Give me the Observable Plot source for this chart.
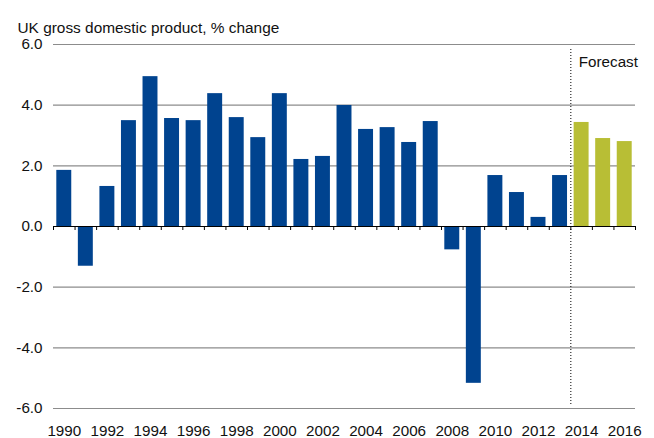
<!DOCTYPE html>
<html>
<head>
<meta charset="utf-8">
<script src="https://cdn.jsdelivr.net/npm/d3@7"></script>
<script src="https://cdn.jsdelivr.net/npm/@observablehq/plot@0.6"></script>
<style>
  html, body { margin: 0; padding: 0; background: #fff; }
  #chart svg { display: block; }
</style>
</head>
<body>
<div id="chart"></div>
<script>
const title = "UK gross domestic product, % change";
const years = [1990,1991,1992,1993,1994,1995,1996,1997,1998,1999,2000,2001,2002,2003,2004,2005,2006,2007,2008,2009,2010,2011,2012,2013,2014,2015,2016];
const growth = [1.85,-1.31,1.32,3.49,4.94,3.56,3.49,4.38,3.59,2.93,4.38,2.21,2.31,3.99,3.20,3.26,2.77,3.46,-0.77,-5.17,1.68,1.12,0.30,1.68,3.43,2.90,2.80];
const firstForecastYear = 2014;
const yTicks = [-6,-4,-2,0,2,4,6];
const xLabels = [1990,1992,1994,1996,1998,2000,2002,2004,2006,2008,2010,2012,2014,2016];
const forecastLabel = "Forecast";

const data = years.map((y, i) => ({year: y, value: growth[i], forecast: y >= firstForecastYear}));
const boundaries = years.map(y => y - 0.5).concat([years[years.length - 1] + 0.5]);

const font = "'Liberation Sans', Arial, Helvetica, sans-serif";

const chart = Plot.plot({
  width: 654,
  height: 438,
  marginLeft: 53,
  marginRight: 19,
  marginTop: 44,
  marginBottom: 30,
  style: {fontFamily: font, fontSize: "15px", color: "#111", background: "#fff"},
  x: {type: "linear", domain: [years[0] - 0.5, years[years.length - 1] + 0.5]},
  y: {domain: [-6, 6]},
  marks: [
    Plot.ruleY(yTicks.filter(d => d !== 0), {stroke: "#8c8c8c", strokeWidth: 1.2}),
    Plot.rectY(data, {
      x1: d => d.year - 0.5,
      x2: d => d.year + 0.5,
      y1: 0,
      y2: "value",
      insetLeft: 3.3,
      insetRight: 3.3,
      fill: d => d.forecast ? "#b8be35" : "#00438f"
    }),
    Plot.ruleY([0], {stroke: "#000", strokeWidth: 1}),
    Plot.ruleX(boundaries, {x: d => d, y1: 0, y2: 0, insetBottom: -4, stroke: "#000", strokeWidth: 1}),
    Plot.ruleX([firstForecastYear - 0.5], {y1: 6, y2: -6, insetTop: 5, insetBottom: 4, stroke: "#000", strokeWidth: 1, strokeDasharray: "1,2"}),
    Plot.text([forecastLabel], {x: firstForecastYear - 0.5, y: 6, text: d => d, textAnchor: "start", dx: 8, dy: 17.5, fontSize: 15.2, fill: "#111"}),
    Plot.axisY({ticks: yTicks, tickSize: 0, tickPadding: 11, tickFormat: d => d.toFixed(1), label: null, fontSize: 15.2, fill: "#111"}),
    Plot.axisX({ticks: xLabels, tickSize: 0, tickPadding: 17, tickFormat: d => String(d), label: null, fontSize: 15.2, fill: "#111"}),
    Plot.text([title], {frameAnchor: "top-left", text: d => d, textAnchor: "start", dx: -36, dy: -22, fontSize: 15.4, fill: "#111"})
  ]
});
document.getElementById("chart").appendChild(chart);
</script>
</body>
</html>
